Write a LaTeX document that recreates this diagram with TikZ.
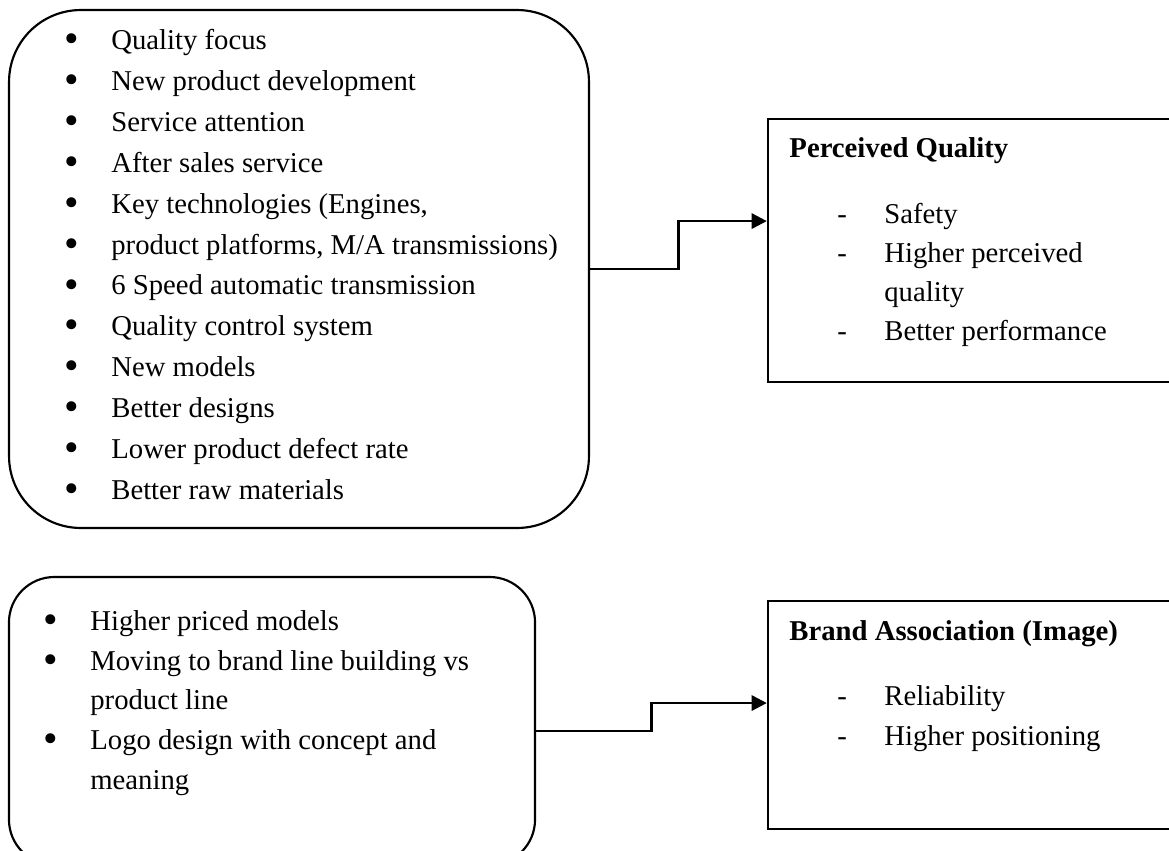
\documentclass[tikz,border=0pt]{standalone}
\usepackage{fontspec}
\setmainfont{Liberation Serif}
\usetikzlibrary{positioning,calc,arrows.meta}

\newcommand{\bl}{\makebox[19.6pt][l]{\raisebox{-1.3pt}{\scalebox{1.45}{\textbullet}}}}
\newcommand{\ds}{\makebox[19.6pt][l]{-}}

\begin{document}
\begin{tikzpicture}[x=0.418pt,y=-0.418pt,
    rbox/.style={draw,rounded corners=30pt,line width=0.9pt,inner sep=0pt},
    sbox/.style={draw,line width=1pt,inner sep=0pt},
    list/.style={anchor=north west,inner sep=0pt,align=left},
    head/.style={anchor=base west,inner sep=0pt,font=\fontsize{12}{14}\selectfont\bfseries},
    link/.style={line width=1.1pt,-{Triangle[length=6.3pt,width=6.3pt]}}]
      \useasboundingbox (0,0) rectangle (1169,851);
      \clip (0,0) rectangle (1169,851);

      % boxes
      \node [rbox,minimum width=242.4pt,minimum height=216.5pt] (qual) at (299,269) {};
      \node [rbox,rounded corners=19pt,minimum width=219.9pt,minimum height=120.4pt] (brandin) at (272,721) {};
      \node [sbox,minimum width=174.3pt,minimum height=109.9pt] (pq) at (976.5,250.5) {};
      \node [sbox,minimum width=174.3pt,minimum height=95.3pt] (ba) at (976.5,715) {};

      % texts
      \node [list,font=\fontsize{12}{17.1}\selectfont] (qualtxt) at (64,20.4) {%
        \begin{tabular}{@{}l@{}l@{}}
        \bl & Quality focus\\
        \bl & New product development\\
        \bl & Service attention\\
        \bl & After sales service\\
        \bl & Key technologies (Engines,\\
        \bl & product platforms, M/A transmissions)\\
        \bl & 6 Speed automatic transmission\\
        \bl & Quality control system\\
        \bl & New models\\
        \bl & Better designs\\
        \bl & Lower product defect rate\\
        \bl & Better raw materials
        \end{tabular}};
      \node [list,font=\fontsize{12}{16.6}\selectfont] (brandtxt) at (43,602.2) {%
        \begin{tabular}{@{}l@{}l@{}}
        \bl & Higher priced models\\
        \bl & Moving to brand line building vs\\
            & product line\\
        \bl & Logo design with concept and\\
            & meaning
        \end{tabular}};
      \node [head] (pqhead) at (789,157) {Perceived Quality};
      \node [list,font=\fontsize{12}{16.3}\selectfont] (pqtxt) at (837,195.7) {%
        \begin{tabular}{@{}l@{}l@{}}
        \ds & Safety\\
        \ds & Higher perceived\\
            & quality\\
        \ds & Better performance
        \end{tabular}};
      \node [head] (bahead) at (789,640) {Brand Association (Image)};
      \node [list,font=\fontsize{12}{16.7}\selectfont] (batxt) at (837,677) {%
        \begin{tabular}{@{}l@{}l@{}}
        \ds & Reliability\\
        \ds & Higher positioning
        \end{tabular}};

      % connectors
      \coordinate (pqin) at ([yshift=12.3pt]pq.west);
      \coordinate (brandout) at ([yshift=-4.2pt]brandin.east);
      \coordinate (bain) at ([yshift=5pt]ba.west);
      \draw[link] (qual.east) -| ($(qual.east)!.5!(pqin)$) |- (pqin);
      \draw[link] (brandout) -| ($(brandout)!.5!(bain)$) |- (bain);
\end{tikzpicture}
\end{document}
